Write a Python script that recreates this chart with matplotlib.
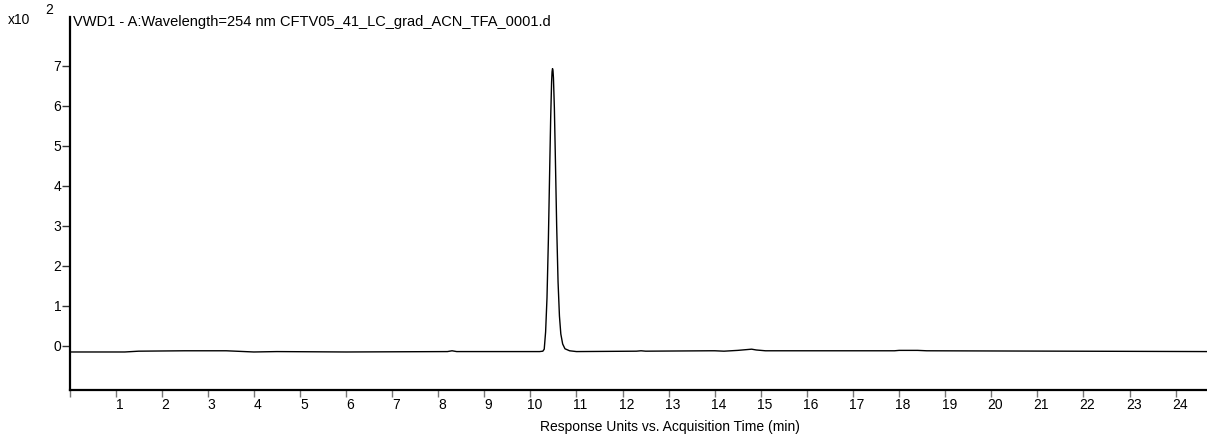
import matplotlib
matplotlib.use("Agg")
import matplotlib.pyplot as plt
import matplotlib.transforms as mtransforms

plt.rcParams['font.family'] = ['Liberation Sans', 'DejaVu Sans']

# chromatogram (time in min, response in x10^2)
time_min = [0.0, 1.2, 1.5, 2.5, 3.4, 3.6, 4.0, 4.5, 6.0, 8.2, 8.3, 8.4, 10.2,
            10.27, 10.30, 10.33, 10.36, 10.39, 10.42, 10.44, 10.46, 10.47, 10.48, 10.49, 10.50,
            10.52, 10.54, 10.57, 10.60, 10.63, 10.66, 10.70, 10.75, 10.85, 11.0,
            12.3, 12.4, 12.5, 13.9, 14.0, 14.2, 14.5, 14.7, 14.8, 14.9, 15.1,
            17.9, 18.0, 18.4, 18.6, 24.7]
response = [-0.15, -0.15, -0.13, -0.12, -0.12, -0.13, -0.15, -0.14, -0.15, -0.14, -0.12, -0.14, -0.14,
            -0.13, -0.08, 0.35, 1.2, 2.65, 4.5, 5.7, 6.6, 6.85, 6.93, 6.88, 6.7,
            5.95, 4.8, 3.0, 1.6, 0.75, 0.3, 0.05, -0.07, -0.12, -0.14,
            -0.13, -0.12, -0.13, -0.12, -0.12, -0.13, -0.11, -0.09, -0.08, -0.10, -0.12,
            -0.12, -0.11, -0.11, -0.12, -0.14]

x_ticks = list(range(0, 25))
x_tick_labels = [''] + [str(t) for t in range(1, 25)]
y_ticks = list(range(0, 8))

fig = plt.figure(figsize=(12.07, 4.43), dpi=100)
ax = fig.add_axes([69.5 / 1207, 1 - 390 / 443, 1 - 69.5 / 1207, (390 - 17) / 443])

ax.plot(time_min, response, color='black', lw=1.0)

ax.set_xlim(0, 24.68)
ax.set_ylim(-1.1, 8.22)
ax.spines['top'].set_visible(False)
ax.spines['right'].set_visible(False)
for s in ['left', 'bottom']:
    ax.spines[s].set_linewidth(1.6)

ax.set_xticks(x_ticks)
ax.set_xticklabels(x_tick_labels)
ax.set_yticks(y_ticks)
ax.tick_params(axis='x', direction='out', length=5, width=1, color='#777777', pad=1, labelsize=10)
ax.tick_params(axis='y', direction='out', length=6, width=1, color='#333333', pad=0, labelsize=10)

offset = mtransforms.ScaledTranslation(4 / 100, 0, fig.dpi_scale_trans)
for lbl in ax.get_xticklabels():
    lbl.set_transform(lbl.get_transform() + offset)

fig.text(73 / 1207, 1 - 22 / 443, 'VWD1 - A:Wavelength=254 nm CFTV05_41_LC_grad_ACN_TFA_0001.d',
         fontsize=10.5, va='center', ha='left')
fig.text(8 / 1207, 1 - 20 / 443, 'x10', fontsize=10, va='center', ha='left')
fig.text(45 / 1207, 1 - 10 / 443, '2', fontsize=10, va='center', ha='left')
fig.text(670 / 1207, 1 - 427 / 443, 'Response Units vs. Acquisition Time (min)',
         fontsize=10, va='center', ha='center')

fig.savefig('out.png', dpi=100)
